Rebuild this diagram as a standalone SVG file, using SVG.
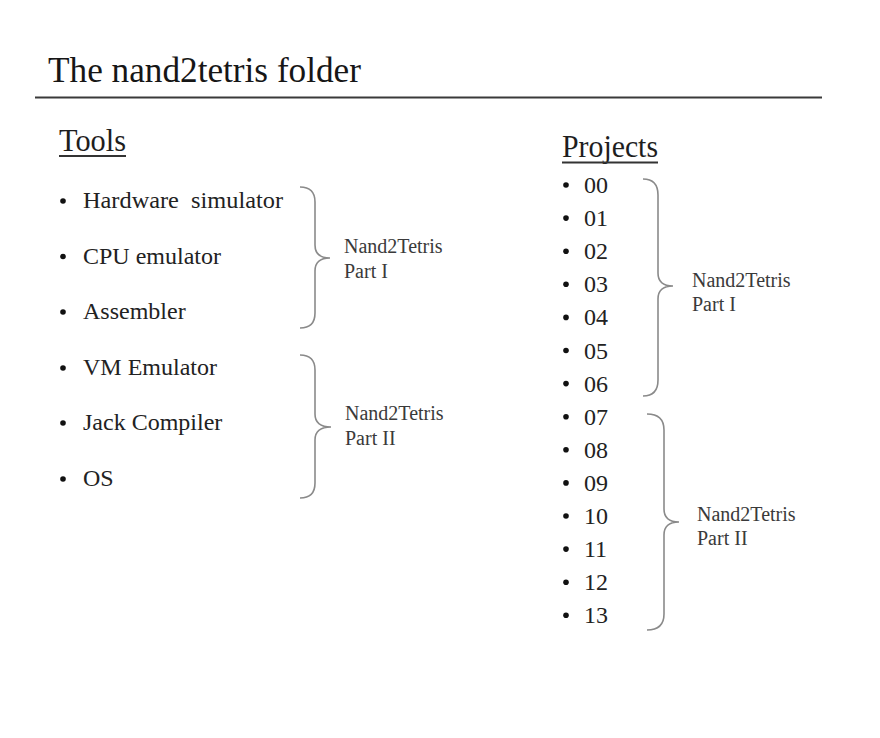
<svg xmlns="http://www.w3.org/2000/svg" width="880" height="738" viewBox="0 0 880 738">
<style>
text{font-family:"Liberation Serif","Times New Roman",serif;}
.title{font-size:35px;fill:#161616;}
.head{font-size:32px;fill:#1e1e1e;}
.item{font-size:24px;fill:#222;}
.num{font-size:24px;fill:#222;}
.lbl{font-size:20px;fill:#3a3a3a;}
.brace{fill:none;stroke:#8a8a8a;stroke-width:1.6;}
.bul{fill:#111;}
.ul{stroke:#333;stroke-width:1.8;}
</style>
<rect width="880" height="738" fill="#fff"/>
<g id="title">
<text class="title" x="48" y="82" textLength="313" lengthAdjust="spacingAndGlyphs">The nand2tetris folder</text>
<line x1="35" y1="97.5" x2="822" y2="97.5" stroke="#3a3a3a" stroke-width="2"/>
</g>
<g id="tools">
<text class="head" x="59" y="151" textLength="67" lengthAdjust="spacingAndGlyphs">Tools</text>
<line class="ul" x1="59" y1="156" x2="126" y2="156"/>
<g id="tool-hw"><circle class="bul" cx="63" cy="201" r="2.8"/><text class="item" x="83" y="208" textLength="200" lengthAdjust="spacingAndGlyphs" xml:space="preserve">Hardware  simulator</text></g>
<g id="tool-cpu"><circle class="bul" cx="63" cy="256.5" r="2.8"/><text class="item" x="83" y="263.5">CPU emulator</text></g>
<g id="tool-asm"><circle class="bul" cx="63" cy="312" r="2.8"/><text class="item" x="83" y="319">Assembler</text></g>
<g id="tool-vm"><circle class="bul" cx="63" cy="368" r="2.8"/><text class="item" x="83" y="375">VM Emulator</text></g>
<g id="tool-jack"><circle class="bul" cx="63" cy="423" r="2.8"/><text class="item" x="83" y="430">Jack Compiler</text></g>
<g id="tool-os"><circle class="bul" cx="63" cy="479" r="2.8"/><text class="item" x="83" y="486">OS</text></g>
</g>
<g id="projects">
<text class="head" x="562" y="157" textLength="96" lengthAdjust="spacingAndGlyphs">Projects</text>
<line class="ul" x1="562" y1="162.5" x2="658" y2="162.5"/>
<g id="p00"><circle class="bul" cx="566" cy="185" r="2.8"/><text class="num" x="584" y="193">00</text></g>
<g id="p01"><circle class="bul" cx="566" cy="218.1" r="2.8"/><text class="num" x="584" y="226.1">01</text></g>
<g id="p02"><circle class="bul" cx="566" cy="251.2" r="2.8"/><text class="num" x="584" y="259.2">02</text></g>
<g id="p03"><circle class="bul" cx="566" cy="284.3" r="2.8"/><text class="num" x="584" y="292.3">03</text></g>
<g id="p04"><circle class="bul" cx="566" cy="317.4" r="2.8"/><text class="num" x="584" y="325.4">04</text></g>
<g id="p05"><circle class="bul" cx="566" cy="350.5" r="2.8"/><text class="num" x="584" y="358.5">05</text></g>
<g id="p06"><circle class="bul" cx="566" cy="383.6" r="2.8"/><text class="num" x="584" y="391.6">06</text></g>
<g id="p07"><circle class="bul" cx="566" cy="416.7" r="2.8"/><text class="num" x="584" y="424.7">07</text></g>
<g id="p08"><circle class="bul" cx="566" cy="449.8" r="2.8"/><text class="num" x="584" y="457.8">08</text></g>
<g id="p09"><circle class="bul" cx="566" cy="482.9" r="2.8"/><text class="num" x="584" y="490.9">09</text></g>
<g id="p10"><circle class="bul" cx="566" cy="516" r="2.8"/><text class="num" x="584" y="524">10</text></g>
<g id="p11"><circle class="bul" cx="566" cy="549.1" r="2.8"/><text class="num" x="584" y="557.1">11</text></g>
<g id="p12"><circle class="bul" cx="566" cy="582.2" r="2.8"/><text class="num" x="584" y="590.2">12</text></g>
<g id="p13"><circle class="bul" cx="566" cy="615.3" r="2.8"/><text class="num" x="584" y="623.3">13</text></g>
</g>
<g id="braces">
<path class="brace" d="M300,187 Q315,187 315,202 L315,245 Q315,258 330,258 Q315,258 315,271 L315,313 Q315,328 300,328"/>
<path class="brace" d="M300,355 Q315,355 315,370 L315,414 Q315,427 331,427 Q315,427 315,440 L315,483 Q315,498 300,498"/>
<path class="brace" d="M643,179 Q658,179 658,195 L658,273 Q658,286 673,286 Q658,286 658,299 L658,380 Q658,396 643,396"/>
<path class="brace" d="M647,414 Q664,414 664,430 L664,509 Q664,522 679,522 Q664,522 664,535 L664,614 Q664,630 647,630"/>
</g>
<g id="label-tools-1"><text class="lbl" x="344" y="253">Nand2Tetris</text><text class="lbl" x="344" y="278">Part I</text></g>
<g id="label-tools-2"><text class="lbl" x="345" y="420">Nand2Tetris</text><text class="lbl" x="345" y="445">Part II</text></g>
<g id="label-proj-1"><text class="lbl" x="692" y="287">Nand2Tetris</text><text class="lbl" x="692" y="311">Part I</text></g>
<g id="label-proj-2"><text class="lbl" x="697" y="521">Nand2Tetris</text><text class="lbl" x="697" y="545">Part II</text></g>
</svg>
